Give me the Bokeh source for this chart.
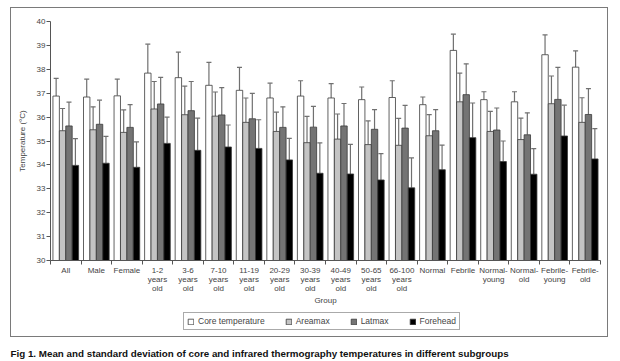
import numpy as np
from bokeh.plotting import figure
from bokeh.layouts import column
from bokeh.models import (ColumnDataSource, Whisker, TeeHead, FixedTicker, Legend,
                          LegendItem, Label)
from bokeh.embed import file_html
from bokeh.resources import INLINE

groups = ["All", "Male", "Female", "1-2\nyears\nold", "3-6\nyears\nold", "7-10\nyears\nold",
          "11-19\nyears\nold", "20-29\nyears\nold", "30-39\nyears\nold", "40-49\nyears\nold",
          "50-65\nyears\nold", "66-100\nyears\nold", "Normal", "Febrile", "Normal-\nyoung",
          "Normal-\nold", "Febrile-\nyoung", "Febrile-\nold"]

core_mean = [36.88, 36.84, 36.89, 37.84, 37.65, 37.33, 37.12, 36.80, 36.88, 36.80,
             36.73, 36.82, 36.52, 38.79, 36.73, 36.64, 38.61, 38.09]
core_upper = [37.62, 37.59, 37.59, 39.05, 38.72, 38.29, 38.08, 37.42, 37.52, 37.40,
              37.26, 37.52, 36.84, 39.47, 37.06, 37.06, 39.44, 38.77]
area_mean = [35.43, 35.47, 35.36, 36.34, 36.10, 36.04, 35.78, 35.40, 34.93, 35.08,
             34.85, 34.82, 35.22, 36.64, 35.40, 35.06, 36.56, 35.78]
area_upper = [36.36, 36.43, 36.30, 37.49, 37.30, 37.05, 36.80, 36.21, 36.03, 36.13,
              35.84, 35.95, 36.10, 37.84, 36.24, 35.96, 37.72, 36.81]
lat_mean = [35.63, 35.70, 35.57, 36.55, 36.27, 36.09, 35.93, 35.57, 35.58, 35.63,
            35.49, 35.54, 35.43, 36.94, 35.46, 35.26, 36.74, 36.11]
lat_upper = [36.63, 36.71, 36.52, 37.66, 37.49, 37.23, 36.99, 36.43, 36.45, 36.57,
             36.31, 36.49, 36.31, 38.23, 36.38, 36.18, 38.08, 37.19]
fore_mean = [33.98, 34.07, 33.90, 34.90, 34.61, 34.75, 34.69, 34.21, 33.65, 33.62,
             33.37, 33.04, 33.80, 35.14, 34.14, 33.61, 35.21, 34.25]
fore_upper = [35.10, 35.19, 34.96, 36.00, 35.96, 35.67, 35.89, 35.11, 34.92, 34.86,
              34.47, 34.29, 34.83, 36.59, 35.00, 34.68, 36.50, 35.52]

series_names = ["Core temperature", "Areamax", "Latmax", "Forehead"]
series_means = [core_mean, area_mean, lat_mean, fore_mean]
series_uppers = [core_upper, area_upper, lat_upper, fore_upper]
series_colors = ["#ffffff", "#c4c4c4", "#747474", "#000000"]
y_ticks = list(range(30, 41))
caption = ("Fig 1. Mean and standard deviation of core and infrared thermography "
           "temperatures in different subgroups")

FONT = "Liberation Sans"
n = len(groups)
bar_w = 0.21
BAR_LINE = "#3a3a3a"

# ---- main chart ----
p = figure(frame_width=550, frame_height=239, x_range=(0, n), y_range=(30, 40),
           toolbar_location=None, output_backend="svg",
           min_border_left=50, min_border_right=20, min_border_top=21, min_border_bottom=46)
p.xgrid.visible = False
p.ygrid.visible = False
p.outline_line_color = None

centers = np.arange(n) + 0.5
for k, (name, means, uppers, col) in enumerate(zip(series_names, series_means, series_uppers, series_colors)):
    xs = centers + (k - 1.5) * bar_w
    src = ColumnDataSource(dict(x=xs, top=means, upper=uppers))
    p.vbar(x="x", top="top", bottom=30, width=bar_w, source=src,
           fill_color=col, line_color=BAR_LINE, line_width=0.8)
    w = Whisker(base="x", upper="upper", lower="top", source=src,
                line_color="#707070", line_width=1.2,
                upper_head=TeeHead(size=5, line_color="#707070", line_width=1.2),
                lower_head=None)
    p.add_layout(w)

p.yaxis.ticker = FixedTicker(ticks=y_ticks)
p.yaxis.axis_label = "Temperature (°C)"
p.yaxis.axis_label_text_font = FONT
p.yaxis.axis_label_text_font_style = "normal"
p.yaxis.axis_label_text_font_size = "8px"
p.yaxis.axis_label_standoff = 7
p.yaxis.major_label_text_font = FONT
p.yaxis.major_label_text_font_size = "8px"
p.yaxis.major_label_standoff = 1
p.yaxis.major_tick_out = 4
p.yaxis.major_tick_in = 0
p.yaxis.minor_tick_line_color = None
p.yaxis.axis_line_color = "#555555"
p.yaxis.major_tick_line_color = "#555555"

p.xaxis.ticker = FixedTicker(ticks=list(centers), minor_ticks=list(range(n + 1)))
p.xaxis.major_label_overrides = {float(c): g for c, g in zip(centers, groups)}
p.xaxis.major_tick_line_color = None
p.xaxis.major_tick_out = 0
p.xaxis.major_tick_in = 0
p.xaxis.minor_tick_out = 4
p.xaxis.minor_tick_in = 0
p.xaxis.minor_tick_line_color = "#555555"
p.xaxis.axis_line_color = "#555555"
p.xaxis.major_label_text_font = FONT
p.xaxis.major_label_text_font_size = "8px"
p.xaxis.major_label_text_line_height = 1.05
p.xaxis.major_label_standoff = 1
p.xaxis.axis_label = "Group"
p.xaxis.axis_label_text_font = FONT
p.xaxis.axis_label_text_font_style = "normal"
p.xaxis.axis_label_text_font_size = "8px"
p.xaxis.axis_label_standoff = 0

# ---- footer: legend + caption ----
foot = figure(width=620, height=55, x_range=(0, 1), y_range=(0, 1),
              x_axis_type=None, y_axis_type=None,
              toolbar_location=None, output_backend="svg", min_border=0)
foot.xgrid.visible = False
foot.ygrid.visible = False
foot.outline_line_color = None
foot.border_fill_color = None
foot.background_fill_color = None
try:
    foot.frame_align = False
    x0 = 0
except Exception:
    x0 = 50

items = []
for name, col in zip(series_names, series_colors):
    # legend swatch only: a single placeholder bar kept outside the visible range
    r = foot.vbar(x=[-1], top=[-1], bottom=-2, width=0.1, fill_color=col,
                  line_color=BAR_LINE, line_width=0.8)
    items.append(LegendItem(label=name, renderers=[r]))

legend = Legend(items=items, orientation="horizontal", location=(183 - x0, 33),
                label_text_font=FONT, label_text_font_size="8.5px",
                glyph_width=7, glyph_height=7, label_standoff=4, spacing=20,
                padding=3, margin=0, border_line_color="#555555", border_line_width=1,
                label_height=8)
foot.add_layout(legend, "center")

foot.add_layout(Label(x=10 - x0, y=10, x_units="screen", y_units="screen", text=caption,
                      text_baseline="middle", text_font=FONT, text_font_style="bold",
                      text_font_size="9.8px", text_color="#111111"))

layout = column(p, foot, spacing=0)
layout.stylesheets = [
    ":host { position: relative; }\n"
    ":host::after { content: ''; position: absolute; left: 10px; top: 7px; width: 598px; "
    "height: 330px; border: 1px solid #7a7a7a; box-sizing: border-box; pointer-events: none; "
    "z-index: 10; }"
]

open("out.html", "w").write(file_html(layout, INLINE))
